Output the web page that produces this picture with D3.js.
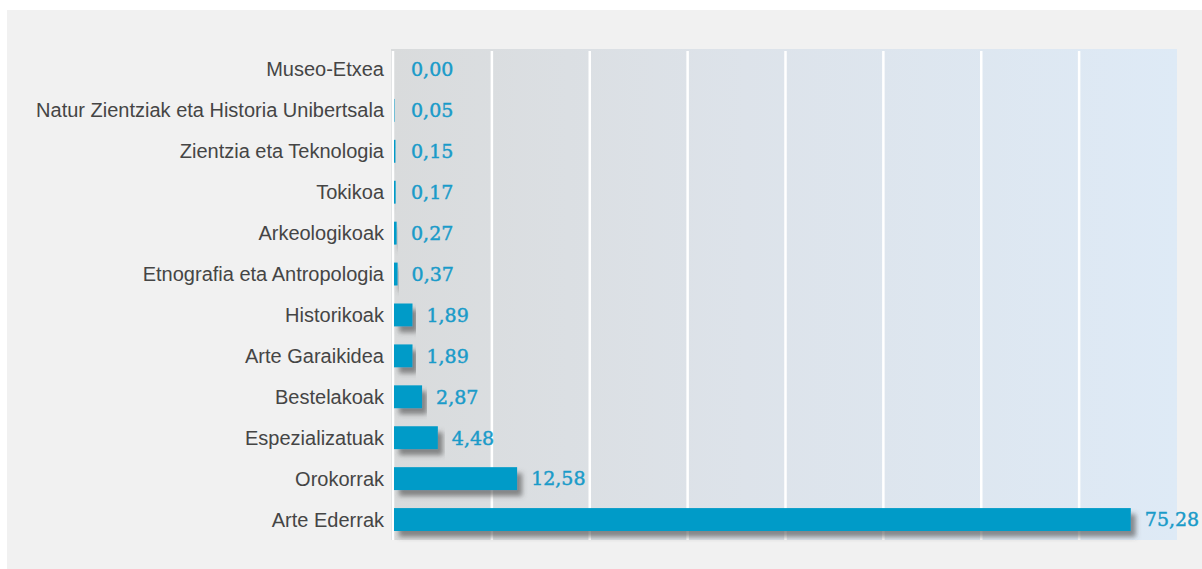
<!DOCTYPE html>
<html>
<head>
<meta charset="utf-8">
<script src="https://cdn.jsdelivr.net/npm/d3@7"></script>
<style>
  html, body { margin: 0; padding: 0; background: #ffffff; }
  svg { display: block; }
</style>
</head>
<body>
<svg id="chart" width="1202" height="569"></svg>
<script>
// Museum categories and their share (%)
const categories = [
  "Museo-Etxea",
  "Natur Zientziak eta Historia Unibertsala",
  "Zientzia eta Teknologia",
  "Tokikoa",
  "Arkeologikoak",
  "Etnografia eta Antropologia",
  "Historikoak",
  "Arte Garaikidea",
  "Bestelakoak",
  "Espezializatuak",
  "Orokorrak",
  "Arte Ederrak"
];
const values = [0.00, 0.05, 0.15, 0.17, 0.27, 0.37, 1.89, 1.89, 2.87, 4.48, 12.58, 75.28];
const gridTicks = [10, 20, 30, 40, 50, 60, 70];

const svg = d3.select("#chart");
const W = 1202, H = 569;
const plot = { left: 394, right: 1177, top: 49, bottom: 540 };

// panel background
svg.append("rect").attr("x", 7).attr("y", 10).attr("width", W - 7).attr("height", H - 10)
  .attr("fill", "#f1f1f1");

const defs = svg.append("defs");
const grad = defs.append("linearGradient").attr("id", "plotBg")
  .attr("x1", "0%").attr("x2", "100%").attr("y1", "0%").attr("y2", "0%");
grad.append("stop").attr("offset", "0%").attr("stop-color", "#d9dbdc");
grad.append("stop").attr("offset", "45%").attr("stop-color", "#dde3ea");
grad.append("stop").attr("offset", "100%").attr("stop-color", "#deeaf6");

const shadow = defs.append("filter").attr("id", "barShadow")
  .attr("x", "-5%").attr("y", "-50%").attr("width", "120%").attr("height", "240%");
shadow.append("feDropShadow").attr("dx", 5).attr("dy", 6).attr("stdDeviation", 2.4)
  .attr("flood-color", "#4a4a4a").attr("flood-opacity", 0.6);

const x = d3.scaleLinear().domain([0, 80]).range([plot.left, plot.right]);
const y = d3.scaleBand().domain(categories).range([plot.top, plot.bottom]).paddingInner(0.44).paddingOuter(0.22);

// plot background
svg.append("rect").attr("x", plot.left - 3).attr("y", plot.top)
  .attr("width", plot.right - plot.left + 3).attr("height", plot.bottom - plot.top)
  .attr("fill", "url(#plotBg)");

// vertical gridlines
svg.append("line").attr("x1", plot.left - 1).attr("x2", plot.left - 1)
  .attr("y1", plot.top + 2).attr("y2", plot.bottom)
  .attr("stroke", "#ffffff").attr("stroke-width", 2.5);
svg.selectAll("line.grid").data(gridTicks).join("line").attr("class", "grid")
  .attr("x1", d => x(d)).attr("x2", d => x(d))
  .attr("y1", plot.top + 2).attr("y2", plot.bottom)
  .attr("stroke", "#ffffff").attr("stroke-width", 2.5);

// bars
const rows = categories.map((c, i) => ({ cat: c, val: values[i] }));
svg.selectAll("rect.bar").data(rows).join("rect").attr("class", "bar")
  .attr("x", x(0))
  .attr("y", d => y(d.cat))
  .attr("width", d => Math.max(0, x(d.val) - x(0)))
  .attr("height", y.bandwidth())
  .attr("fill", "#009bc8")
  .attr("filter", "url(#barShadow)");

// category labels
svg.selectAll("text.cat").data(rows).join("text").attr("class", "cat")
  .attr("x", 384)
  .attr("y", d => y(d.cat) + y.bandwidth() / 2)
  .attr("dy", "0.35em")
  .attr("text-anchor", "end")
  .attr("font-family", "'Liberation Sans', Arial, sans-serif")
  .attr("font-size", 20)
  .attr("fill", "#454545")
  .text(d => d.cat);

// value labels
const fmt = v => v.toFixed(2).replace(".", ",");
svg.selectAll("text.val").data(rows).join("text").attr("class", "val")
  .attr("x", d => Math.max(x(d.val) + 14, 411))
  .attr("y", d => y(d.cat) + y.bandwidth() / 2)
  .attr("dy", "0.36em")
  .attr("font-family", "'DejaVu Serif', serif")
  .attr("font-size", 19)
  .attr("fill", "#1a9bc9")
  .attr("stroke", "#1a9bc9")
  .attr("stroke-width", 0.45)
  .text(d => fmt(d.val));
</script>
</body>
</html>
